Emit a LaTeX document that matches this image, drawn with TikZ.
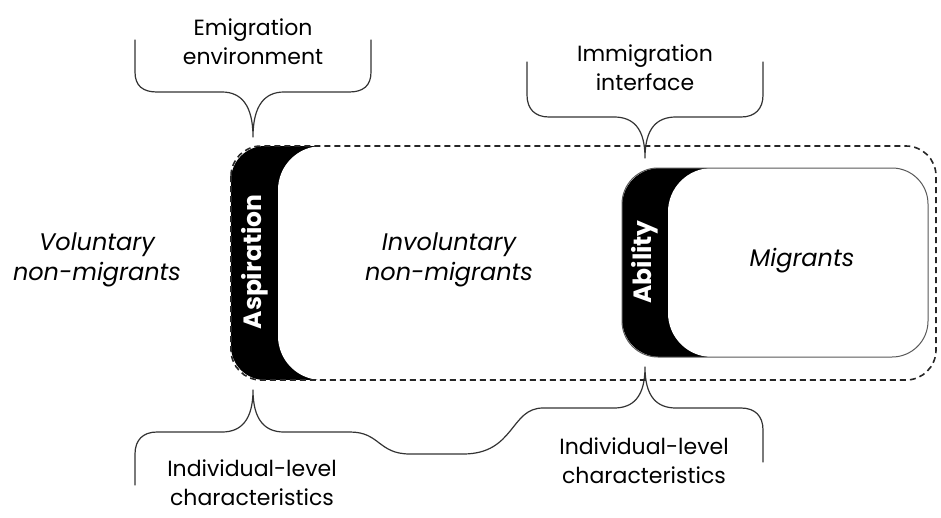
\documentclass[tikz,border=0pt]{standalone}
\usepackage{fontspec}
\setmainfont{Poppins}
\begin{document}
\begin{tikzpicture}[x=1pt,y=-1pt,
  plain/.style={font=\fontsize{22}{29}\selectfont, align=center, inner sep=0pt},
  group/.style={font=\fontsize{24}{30}\selectfont\itshape, align=center, inner sep=0pt},
  band/.style={text=white, font=\fontsize{25}{25}\selectfont\bfseries, rotate=90, inner sep=0pt},
  brace/.style={draw=black!80, line width=1.2pt, line join=round, line cap=round},
  outline/.style={draw=black!85, line width=1.6pt, dash pattern=on 6pt off 4pt}]
\useasboundingbox (0,0) rectangle (941,517);

% outer region: aspiration band on the left, dashed boundary
\begin{scope}
  \clip[rounded corners=34pt] (231,146) rectangle (936,380);
  \fill (231,146) rectangle (330,380);
  \fill[white, rounded corners=44pt] (278,146) rectangle (990,380);
\end{scope}
\draw[outline, rounded corners=30pt] (231,146) rectangle (936,380);

% migrants box: ability band on the left
\begin{scope}
  \clip[rounded corners=38pt] (622,168) rectangle (928,357);
  \fill (622,168) rectangle (720,357);
  \fill[white, rounded corners=44pt] (668,168) rectangle (990,357);
\end{scope}
\draw[black!65, line width=1pt, rounded corners=36pt] (622,168) rectangle (928,357);

% band labels
\node[band] (asp) at (255,262) {Aspiration};
\node[band] (abl) at (645,262) {Ability};

% group labels
\node[group] (vol) at (97,260) {Voluntary\\non-migrants};
\node[group] (invol) at (449,260) {Involuntary\\non-migrants};
\node[group] (mig) at (802,261) {Migrants};

% brace labels
\node[plain] (emig) at (253,42) {Emigration\\environment};
\node[plain] (immig) at (645,68) {Immigration\\interface};
\node[plain] (indA) at (252,483) {Individual-level\\characteristics};
\node[plain] (indB) at (644,461) {Individual-level\\characteristics};

% brace tips
\coordinate (tipE) at (253,137);
\coordinate (tipI) at (645,158);
\coordinate (tipA) at (253,390);
\coordinate (tipB) at (645,367);

% emigration environment brace
\draw[brace] (135,40) -- (135,72) .. controls (135,86) and (143,92) .. (157,92)
  -- (222,92) .. controls (241,92) and (253,105) .. (tipE)
  (tipE) .. controls (253,105) and (265,92) .. (284,92)
  -- (349,92) .. controls (363,92) and (371,86) .. (371,72) -- (371,40);

% immigration interface brace
\draw[brace] (527,62) -- (527,95) .. controls (527,109) and (535,117) .. (549,117)
  -- (614,117) .. controls (633,117) and (645,128) .. (tipI)
  (tipI) .. controls (645,128) and (657,117) .. (676,117)
  -- (741,117) .. controls (755,117) and (763,109) .. (763,95) -- (763,62);

% individual-level characteristics: joined double brace
\draw[brace] (135,485) -- (135,454) .. controls (135,440) and (143,432) .. (157,432)
  -- (222,432) .. controls (241,432) and (253,420) .. (tipA)
  .. controls (253,420) and (265,432) .. (284,432)
  -- (350,432) .. controls (380,432) and (378,454) .. (410,454)
  -- (463,454) .. controls (515,454) and (510,408) .. (543,408)
  -- (614,408) .. controls (633,408) and (645,397) .. (tipB)
  .. controls (645,397) and (657,408) .. (676,408)
  -- (741,408) .. controls (755,408) and (763,416) .. (763,430) -- (763,462);
\end{tikzpicture}
\end{document}
